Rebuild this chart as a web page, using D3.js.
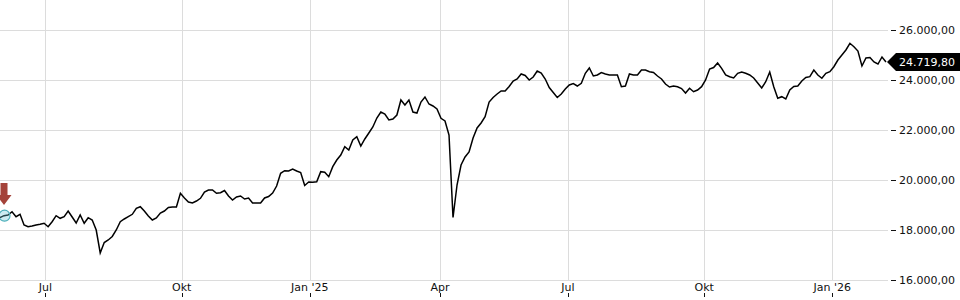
<!DOCTYPE html>
<html>
<head>
<meta charset="utf-8">
<script src="https://cdn.jsdelivr.net/npm/d3@7"></script>
<style>
  html, body { margin: 0; padding: 0; background: #fff; }
  svg { display: block; }
  text { font-family: "DejaVu Sans", Verdana, sans-serif; }
</style>
</head>
<body>
<svg id="chart" width="960" height="300"></svg>
<script>
// ---- data ----
const startDate = "2024-05-30";
const endDate = "2026-02-09";
const holidays = ["2024-12-24","2024-12-25","2024-12-26","2024-12-31","2025-01-01",
  "2025-04-18","2025-04-21","2025-05-01","2025-12-24","2025-12-25","2025-12-26",
  "2025-12-31","2026-01-01"];
const tickDates = ["2024-07-01","2024-10-01","2025-01-01","2025-04-01","2025-07-01","2025-10-01","2026-01-01"];
const tickLabels = ["Jul","Okt","Jan '25","Apr","Jul","Okt","Jan '26"];
const yTicks = [16000, 18000, 20000, 22000, 24000, 26000];
const lastValue = 24719.80;
// index closes, evenly spaced over trading days from startDate to endDate
const values = [
  18492,18572,18600,18732,18532,18628,18200,18132,18160,18200,18228,18268,
  18132,18332,18572,18468,18532,18760,18520,18280,18600,18268,18492,18400,
  18000,17080,17500,17600,17740,18000,18332,18440,18532,18628,18868,18932,
  18760,18560,18400,18480,18680,18760,18900,18920,18920,19468,19280,19120,
  19080,19160,19268,19520,19600,19600,19468,19492,19580,19360,19200,19320,
  19360,19240,19280,19080,19080,19080,19280,19340,19480,19760,20268,20372,
  20360,20440,20360,20300,19780,19920,19908,19932,20332,20308,20132,20532,
  20800,21000,21332,21200,21600,21732,21360,21640,21880,22120,22480,22720,
  22640,22400,22440,22600,23200,23000,23200,22720,22680,23120,23320,23040,
  22960,22840,22468,22360,21800,18500,19800,20600,20920,21120,21680,22080,
  22280,22532,23120,23300,23440,23560,23560,23740,23960,24040,24240,24180,
  24000,24120,24360,24280,24040,23700,23500,23300,23440,23640,23800,23860,
  23760,23868,24268,24480,24160,24200,24300,24240,24200,24200,24200,23732,
  23760,24240,24200,24200,24400,24400,24332,24300,24160,24040,23840,23720,
  23760,23732,23660,23480,23668,23532,23600,23732,24000,24440,24500,24680,
  24468,24200,24132,24080,24268,24320,24268,24200,24080,23880,23680,23932,
  24320,23732,23268,23332,23240,23600,23740,23760,23960,24100,24132,24400,
  24200,24068,24268,24332,24532,24800,25000,25200,25468,25332,25160,24560,
  24880,24900,24720,24640,24920,24719.80
];

// ---- setup ----
const svg = d3.select("#chart");
const plotLeft = 0, plotRight = 888, plotTop = 0, plotBottom = 280;
const parse = d3.utcParse("%Y-%m-%d");
const holidaySet = new Set(holidays);
const fmtDay = d3.utcFormat("%Y-%m-%d");
const tradingDays = d3.utcDay.range(parse(startDate), d3.utcDay.offset(parse(endDate), 1))
  .filter(d => d.getUTCDay() !== 0 && d.getUTCDay() !== 6 && !holidaySet.has(fmtDay(d)));
const nDays = tradingDays.length;
const dayIndex = d => d3.bisectLeft(tradingDays, d);

const x = d3.scaleLinear().domain([0, nDays - 1]).range([0, 886]);
const y = d3.scaleLinear().domain([16000, 26000]).range([280, 30]);

const locale = d3.formatLocale({decimal: ",", thousands: ".", grouping: [3], currency: ["", " €"]});
const fmt = locale.format(",.2f");

const series = values.map((v, i) => ({ t: i * (nDays - 1) / (values.length - 1), v }));

// ---- grid ----
const grid = svg.append("g");
grid.selectAll("line.h").data(yTicks).join("line")
  .attr("x1", plotLeft).attr("x2", plotRight)
  .attr("y1", d => Math.round(y(d)) + 0.5).attr("y2", d => Math.round(y(d)) + 0.5)
  .attr("stroke", "#dcdcdc").attr("stroke-width", 1);
const tickPos = tickDates.map(d => x(dayIndex(parse(d))));
grid.selectAll("line.v").data(tickPos).join("line")
  .attr("x1", d => Math.round(d) + 0.5).attr("x2", d => Math.round(d) + 0.5)
  .attr("y1", plotTop).attr("y2", plotBottom)
  .attr("stroke", "#dcdcdc").attr("stroke-width", 1);

// ---- y axis (right) ----
const yAxis = svg.append("g");
yAxis.selectAll("line").data(yTicks).join("line")
  .attr("x1", 891).attr("x2", 896)
  .attr("y1", d => Math.round(y(d)) + 0.5).attr("y2", d => Math.round(y(d)) + 0.5)
  .attr("stroke", "#111");
yAxis.selectAll("text").data(yTicks).join("text")
  .attr("x", 899).attr("y", d => y(d)).attr("dy", "0.35em")
  .attr("font-size", 11).attr("fill", "#111")
  .text(d => fmt(d));

// ---- x axis ----
const xAxis = svg.append("g");
xAxis.selectAll("text").data(tickPos).join("text")
  .attr("x", d => d).attr("y", 291)
  .attr("text-anchor", "middle").attr("font-size", 11).attr("fill", "#111")
  .text((d, i) => tickLabels[i]);
xAxis.selectAll("line").data(tickPos).join("line")
  .attr("x1", d => Math.round(d) + 0.5).attr("x2", d => Math.round(d) + 0.5)
  .attr("y1", 293).attr("y2", 297)
  .attr("stroke", "#111");

// ---- line ----
const line = d3.line().x(d => x(d.t)).y(d => y(d.v)).curve(d3.curveLinear);
svg.append("path").datum(series)
  .attr("d", line)
  .attr("fill", "none").attr("stroke", "#000").attr("stroke-width", 1.5)
  .attr("stroke-linejoin", "miter");

// ---- start marker ----
const mx = x(series[1].t) + 0.5, my = y(series[1].v);
svg.append("circle").attr("cx", mx).attr("cy", my).attr("r", 5.5)
  .attr("fill", "rgba(110,200,215,0.35)").attr("stroke", "#4aaeb9").attr("stroke-width", 1.2);
const ax = mx - 0.5, atop = 183, ashaftEnd = 195, atip = 205;
svg.append("path")
  .attr("d", `M${ax-3.5},${atop} L${ax+3.5},${atop} L${ax+3.5},${ashaftEnd} L${ax+7.5},${ashaftEnd} L${ax},${atip} L${ax-7.5},${ashaftEnd} L${ax-3.5},${ashaftEnd} Z`)
  .attr("fill", "#a4433a");

// ---- last value label ----
const ly = y(lastValue);
svg.append("path")
  .attr("d", `M887,${ly} L896,${ly-9} L960,${ly-9} L960,${ly+9} L896,${ly+9} Z`)
  .attr("fill", "#000");
svg.append("text").attr("x", 899).attr("y", ly).attr("dy", "0.35em")
  .attr("font-size", 11).attr("fill", "#fff").text(fmt(lastValue));
</script>
</body>
</html>
